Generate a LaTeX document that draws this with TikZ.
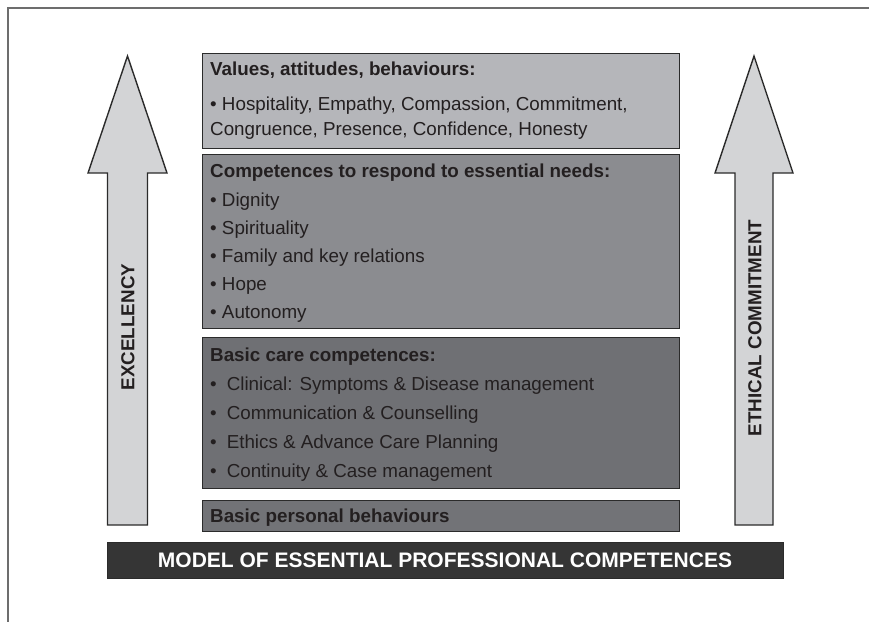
\documentclass[tikz,border=0pt]{standalone}
\usepackage{fontspec}
\setmainfont{Liberation Sans}
\definecolor{framegray}{HTML}{6D6D6D}
\definecolor{edgegray}{HTML}{2B2B2B}
\definecolor{inkgray}{HTML}{231F20}
\definecolor{arrowgray}{HTML}{D3D4D6}
\definecolor{valuesgray}{HTML}{B5B6BA}
\definecolor{needsgray}{HTML}{8B8C90}
\definecolor{caregray}{HTML}{6F7074}
\definecolor{personalgray}{HTML}{727377}
\definecolor{bargray}{HTML}{353535}
\begin{document}
\begin{tikzpicture}[x=1pt, y=-1pt,
	layer/.style={draw=edgegray, line width=1.4pt, anchor=north west, inner sep=0pt, minimum width=477pt},
	head/.style={anchor=base west, inner sep=0pt, text=inkgray, font=\fontsize{18.8}{22}\selectfont\bfseries},
	item/.style={anchor=base west, inner sep=0pt, text=inkgray, font=\fontsize{18.8}{22}\selectfont},
	uparrow/.style={draw=edgegray, line width=1.4pt, fill=arrowgray, line join=miter},
	side/.style={rotate=90, inner sep=0pt, text=inkgray, font=\fontsize{18.8}{22}\selectfont\bfseries}]
	\useasboundingbox (0,0) rectangle (869,622);
	\draw[framegray, line width=1.5pt] (869,8) -- (8,8) -- (8,622);

	% the two arrows
	\draw[uparrow] (127.5,56) -- (167,173) -- (147.5,173) -- (147.5,525) -- (107.5,525) -- (107.5,173) -- (88,173) -- cycle;
	\draw[uparrow] (754,56) -- (793,173) -- (773,173) -- (773,525) -- (735,525) -- (735,173) -- (715,173) -- cycle;
	\node[side] (excellency) at (128,327) {EXCELLENCY};
	\node[side] (ethical) at (755,328) {ETHICAL COMMITMENT};

	% the layers
	\node[layer, fill=valuesgray, minimum height=95pt] (values) at (202,53) {};
	\node[layer, fill=needsgray, minimum height=174pt] (needs) at (202,154) {};
	\node[layer, fill=caregray, minimum height=151pt] (care) at (202,337) {};
	\node[layer, fill=personalgray, minimum height=31pt] (personal) at (202,500) {};

	\node[head] (values-title) at (210,75) {Values, attitudes, behaviours:};
	\node[item] (values-a) at (210,110) {• Hospitality, Empathy, Compassion, Commitment,};
	\node[item] (values-b) at (210,135) {Congruence, Presence, Confidence, Honesty};

	\node[head] (needs-title) at (210,177) {Competences to respond to essential needs:};
	\node[item] (needs-a) at (210,206) {• Dignity};
	\node[item] (needs-b) at (210,234) {• Spirituality};
	\node[item] (needs-c) at (210,262) {• Family and key relations};
	\node[item] (needs-d) at (210,290) {• Hope};
	\node[item] (needs-e) at (210,318) {• Autonomy};

	\node[head] (care-title) at (210,361) {Basic care competences:};
	\node[item] (care-a) at (210,390) {•\hspace{10pt}Clinical: Symptoms \& Disease management};
	\node[item] (care-b) at (210,419) {•\hspace{10pt}Communication \& Counselling};
	\node[item] (care-c) at (210,448) {•\hspace{10pt}Ethics \& Advance Care Planning};
	\node[item] (care-d) at (210,477) {•\hspace{10pt}Continuity \& Case management};

	\node[head] (personal-title) at (210,522) {Basic personal behaviours};

	% bottom bar
	\node[draw=edgegray, line width=1pt, fill=bargray, minimum width=676pt, minimum height=36pt, inner sep=0pt,
		text=white, font=\fontsize{21}{24}\selectfont\bfseries] (model) at (445,560) {MODEL OF ESSENTIAL PROFESSIONAL COMPETENCES};
\end{tikzpicture}
\end{document}
